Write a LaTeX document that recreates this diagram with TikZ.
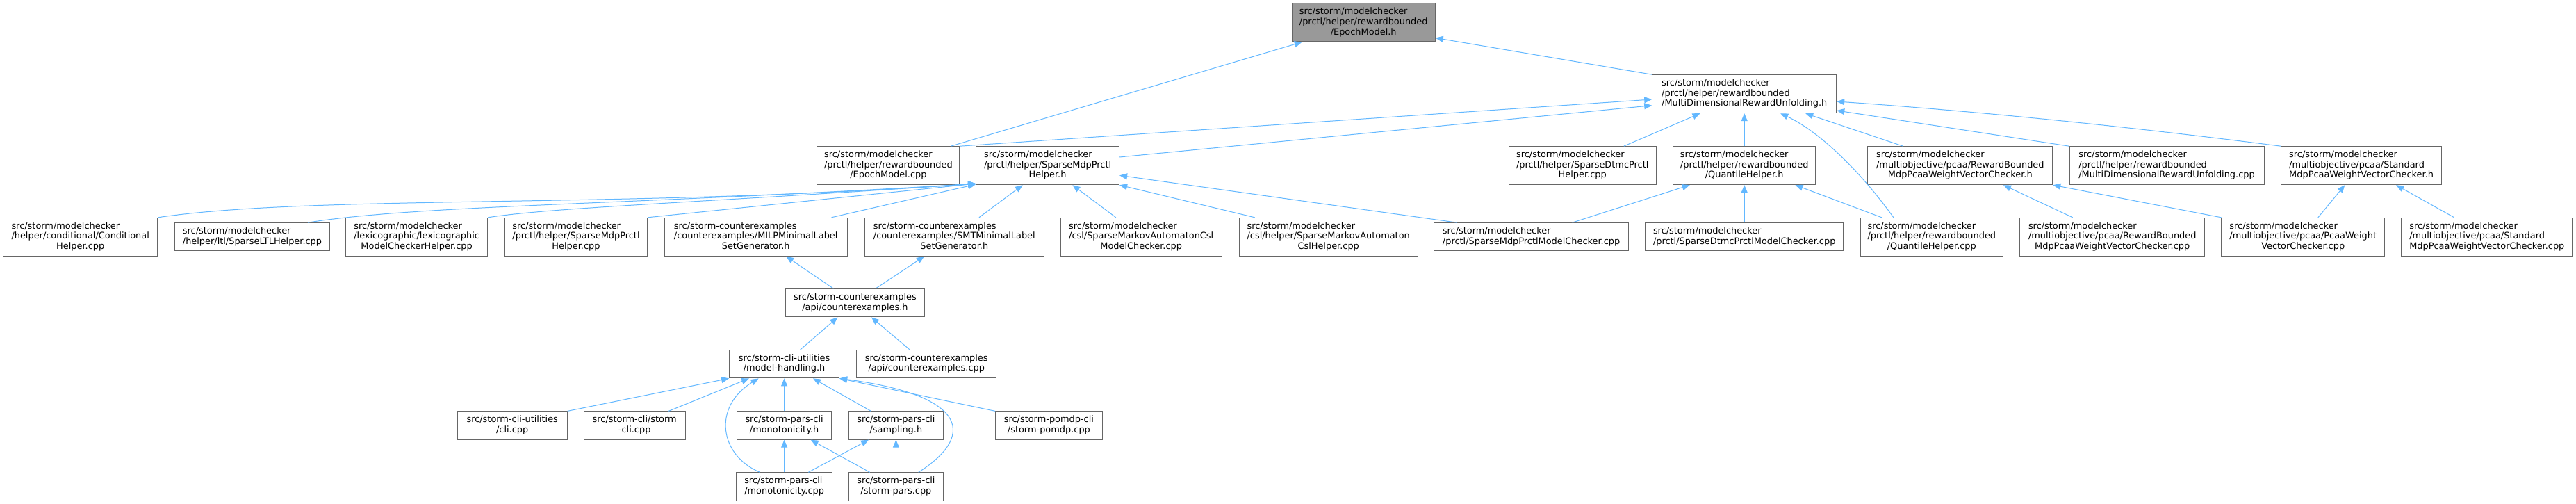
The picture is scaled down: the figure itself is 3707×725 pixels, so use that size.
\documentclass[tikz,border=0pt]{standalone}
\usepackage{fontspec}
\setmainfont{DejaVu Sans}
\usetikzlibrary{arrows.meta}
\definecolor{edgeblue}{HTML}{63B8FF}
\definecolor{boxgray}{HTML}{666666}
\definecolor{rootfill}{HTML}{999999}
\newcommand{\lbl}[2]{\begin{tabular}{@{}l@{}}#1\\\multicolumn{1}{@{}c@{}}{#2}\end{tabular}}
\tikzset{
  box/.style={draw=boxgray, line width=1pt, fill=white, inner sep=0pt, text=black,
    font=\fontsize{12.9}{14.7}\selectfont},
  rootbox/.style={box, fill=rootfill},
  tall/.style={minimum height=55pt},
  short/.style={minimum height=40.3pt},
  edge/.style={draw=edgeblue, line width=1pt, -{Triangle[length=11pt,width=9pt]}}
}
\begin{document}
\begin{tikzpicture}[x=1pt,y=-1pt]
\fill[white] (0,0) rectangle (3707,725);
\useasboundingbox (0,0) rectangle (3707,725);

% root and second level
\node[rootbox,tall,minimum width=206pt] (epochh) at (1962.2,32.5) {\lbl{src/storm/modelchecker\\/prctl/helper/rewardbounded}{/EpochModel.h}};
\node[box,tall,minimum width=265pt] (mdru) at (2510.2,135.2) {\lbl{src/storm/modelchecker\\/prctl/helper/rewardbounded}{/MultiDimensionalRewardUnfolding.h}};

% row y=238.2
\node[box,tall,minimum width=205pt] (epochcpp) at (1278.4,238.2) {\lbl{src/storm/modelchecker\\/prctl/helper/rewardbounded}{/EpochModel.cpp}};
\node[box,tall,minimum width=206pt] (mdph) at (1507.6,238.2) {\lbl{src/storm/modelchecker\\/prctl/helper/SparseMdpPrctl}{Helper.h}};
\node[box,tall,minimum width=212pt] (dtmch) at (2277.2,238.2) {\lbl{src/storm/modelchecker\\/prctl/helper/SparseDtmcPrctl}{Helper.cpp}};
\node[box,tall,minimum width=205pt] (qh) at (2510.2,238.2) {\lbl{src/storm/modelchecker\\/prctl/helper/rewardbounded}{/QuantileHelper.h}};
\node[box,tall,minimum width=266pt] (rbh) at (2820.8,238.2) {\lbl{src/storm/modelchecker\\/multiobjective/pcaa/RewardBounded}{MdpPcaaWeightVectorChecker.h}};
\node[box,tall,minimum width=280pt] (mdrucpp) at (3118,238.2) {\lbl{src/storm/modelchecker\\/prctl/helper/rewardbounded}{/MultiDimensionalRewardUnfolding.cpp}};
\node[box,tall,minimum width=231pt] (stdh) at (3398.1,238.2) {\lbl{src/storm/modelchecker\\/multiobjective/pcaa/Standard}{MdpPcaaWeightVectorChecker.h}};

% row y=340.8
\node[box,tall,minimum width=222pt] (cond) at (115.7,340.8) {\lbl{src/storm/modelchecker\\/helper/conditional/Conditional}{Helper.cpp}};
\node[box,short,minimum width=223pt] (ltl) at (363,340.8) {\lbl{src/storm/modelchecker}{/helper/ltl/SparseLTLHelper.cpp}};
\node[box,tall,minimum width=204pt] (lexi) at (599.6,340.8) {\lbl{src/storm/modelchecker\\/lexicographic/lexicographic}{ModelCheckerHelper.cpp}};
\node[box,tall,minimum width=205pt] (mdphcpp) at (829,340.8) {\lbl{src/storm/modelchecker\\/prctl/helper/SparseMdpPrctl}{Helper.cpp}};
\node[box,tall,minimum width=263pt] (milp) at (1087.7,340.8) {\lbl{src/storm-counterexamples\\/counterexamples/MILPMinimalLabel}{SetGenerator.h}};
\node[box,tall,minimum width=258.6pt] (smt) at (1373.3,340.8) {\lbl{src/storm-counterexamples\\/counterexamples/SMTMinimalLabel}{SetGenerator.h}};
\node[box,tall,minimum width=232pt] (smacsl) at (1642.2,340.8) {\lbl{src/storm/modelchecker\\/csl/SparseMarkovAutomatonCsl}{ModelChecker.cpp}};
\node[box,tall,minimum width=257pt] (smahelper) at (1911.7,340.8) {\lbl{src/storm/modelchecker\\/csl/helper/SparseMarkovAutomaton}{CslHelper.cpp}};
\node[box,short,minimum width=279.4pt] (mdpmc) at (2203.6,340.8) {\lbl{src/storm/modelchecker}{/prctl/SparseMdpPrctlModelChecker.cpp}};
\node[box,short,minimum width=285.3pt] (dtmcmc) at (2510.2,340.8) {\lbl{src/storm/modelchecker}{/prctl/SparseDtmcPrctlModelChecker.cpp}};
\node[box,tall,minimum width=205pt] (qhcpp) at (2779.8,340.8) {\lbl{src/storm/modelchecker\\/prctl/helper/rewardbounded}{/QuantileHelper.cpp}};
\node[box,tall,minimum width=266pt] (rbcpp) at (3039.7,340.8) {\lbl{src/storm/modelchecker\\/multiobjective/pcaa/RewardBounded}{MdpPcaaWeightVectorChecker.cpp}};
\node[box,tall,minimum width=234.5pt] (pcaacpp) at (3314.2,340.8) {\lbl{src/storm/modelchecker\\/multiobjective/pcaa/PcaaWeight}{VectorChecker.cpp}};
\node[box,tall,minimum width=246pt] (stdcpp) at (3578.8,340.8) {\lbl{src/storm/modelchecker\\/multiobjective/pcaa/Standard}{MdpPcaaWeightVectorChecker.cpp}};

% lower part
\node[box,short,minimum width=200.5pt] (ceh) at (1230.4,435.8) {\lbl{src/storm-counterexamples}{/api/counterexamples.h}};
\node[box,short,minimum width=158pt] (mhh) at (1128.6,523.7) {\lbl{src/storm-cli-utilities}{/model-handling.h}};
\node[box,short,minimum width=201pt] (cecpp) at (1333.2,523.7) {\lbl{src/storm-counterexamples}{/api/counterexamples.cpp}};
\node[box,short,minimum width=158pt] (clicpp) at (737.2,612) {\lbl{src/storm-cli-utilities}{/cli.cpp}};
\node[box,short,minimum width=145.6pt] (stormcli) at (913.2,612) {\lbl{src/storm-cli/storm}{-cli.cpp}};
\node[box,short,minimum width=136pt] (monoh) at (1128.6,612) {\lbl{src/storm-pars-cli}{/monotonicity.h}};
\node[box,short,minimum width=136pt] (samph) at (1289.4,612) {\lbl{src/storm-pars-cli}{/sampling.h}};
\node[box,short,minimum width=153.6pt] (pomdp) at (1509.4,612) {\lbl{src/storm-pomdp-cli}{/storm-pomdp.cpp}};
\node[box,short,minimum width=137.6pt] (monocpp) at (1128.6,700) {\lbl{src/storm-pars-cli}{/monotonicity.cpp}};
\node[box,short,minimum width=136pt] (parscpp) at (1289.4,700) {\lbl{src/storm-pars-cli}{/storm-pars.cpp}};

% edges to root
\draw[edge] ([xshift=90]epochcpp.north) -- ([xshift=15]epochh.south west);
\draw[edge] (mdru.north west) -- ([yshift=-22]epochh.east);
% edges to mdru
\draw[edge] (epochcpp.north east) -- ([yshift=-7.8]mdru.west);
\draw[edge] ([yshift=12.2]mdph.east) -- ([yshift=-16.5]mdru.west);
\draw[edge] ([xshift=59.5]dtmch.north) -- ([xshift=-63.7]mdru.south);
\draw[edge] (qh.north) -- (mdru.south);
\draw[edge] ([xshift=-55]qhcpp.north) .. controls (2680,250) and (2620,190) .. ([xshift=52]mdru.south);
\draw[edge] ([xshift=-82.3]rbh.north) -- ([xshift=-45]mdru.south east);
\draw[edge] (mdrucpp.north west) -- ([yshift=-23.8]mdru.east);
\draw[edge] (stdh.north west) .. controls (3070,183) and (2857,161) .. ([yshift=-10.8]mdru.east);
% edges to mdph
\draw[edge] (cond.north east) .. controls (450,280) and (900,300) .. ([yshift=2]mdph.south west);
\draw[edge] ([xshift=80]ltl.north) .. controls (600,295) and (900,295) .. ([yshift=2]mdph.south west);
\draw[edge] (lexi.north east) .. controls (800,298) and (1000,292) .. ([yshift=2]mdph.south west);
\draw[edge] (mdphcpp.north east) -- ([yshift=2]mdph.south west);
\draw[edge] ([xshift=108.8]milp.north) -- ([yshift=1]mdph.south west);
\draw[edge] ([xshift=35.6]smt.north) -- ([xshift=-35.9]mdph.south);
\draw[edge] ([xshift=-36.4]smacsl.north) -- ([xshift=35.7]mdph.south);
\draw[edge] ([xshift=-106]smahelper.north) -- (mdph.south east);
\draw[edge] ([xshift=-107]mdpmc.north) -- ([yshift=-14.1]mdph.east);
% edges to qh
\draw[edge] ([xshift=59]mdpmc.north) -- ([xshift=-78.6]qh.south);
\draw[edge] (dtmcmc.north) -- (qh.south);
\draw[edge] ([xshift=-72]qhcpp.north) -- ([xshift=-29.7]qh.south east);
% edges to rbh, stdh
\draw[edge] ([xshift=-57]rbcpp.north) -- ([xshift=62.2]rbh.south);
\draw[edge] (pcaacpp.north west) -- (rbh.south east);
\draw[edge] ([xshift=21.6]pcaacpp.north) -- ([xshift=-23.8]stdh.south);
\draw[edge] ([xshift=-47.2]stdcpp.north) -- ([xshift=50]stdh.south);
% lower part
\draw[edge] ([xshift=-31]ceh.north) -- ([xshift=43.6]milp.south);
\draw[edge] ([xshift=29.6]ceh.north) -- ([xshift=-43.3]smt.south);
\draw[edge] ([xshift=23]mhh.north) -- ([xshift=-25]ceh.south);
\draw[edge] ([xshift=-24]cecpp.north) -- ([xshift=23.6]ceh.south);
\draw[edge] (clicpp.north east) -- (mhh.south west);
\draw[edge] ([xshift=49]stormcli.north) -- ([xshift=-50.6]mhh.south);
\draw[edge] ([xshift=-35]monocpp.north) .. controls (1035,655) and (1025,585) .. ([xshift=-37]mhh.south);
\draw[edge] (monoh.north) -- (mhh.south);
\draw[edge] ([xshift=-36]samph.north) -- ([xshift=41.4]mhh.south);
\draw[edge] ([xshift=32.3]parscpp.north) .. controls (1400,630) and (1400,570) .. (mhh.south east);
\draw[edge] (pomdp.north west) -- (mhh.south east);
\draw[edge] (monocpp.north) -- (monoh.south);
\draw[edge] ([xshift=-37.7]parscpp.north) -- ([xshift=38.1]monoh.south);
\draw[edge] ([xshift=34.7]monocpp.north) -- ([xshift=-39.4]samph.south);
\draw[edge] (parscpp.north) -- (samph.south);
\end{tikzpicture}
\end{document}
